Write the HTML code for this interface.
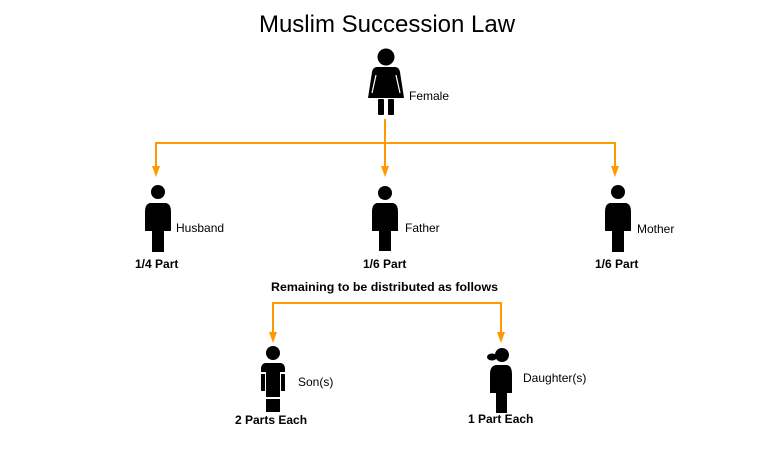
<!DOCTYPE html>
<html>
<head>
<meta charset="utf-8">
<style>
html,body{margin:0;padding:0;background:#fff;}
svg{display:block;}
text{font-family:"Liberation Sans",Arial,sans-serif;fill:#000;}
</style>
</head>
<body>
<svg width="778" height="456" viewBox="0 0 778 456" xmlns="http://www.w3.org/2000/svg">
  <rect width="778" height="456" fill="#fff"/>
  <!-- Title -->
  <text x="387" y="32" font-size="24" text-anchor="middle">Muslim Succession Law</text>

  <!-- Connectors top -->
  <g stroke="#FF9900" stroke-width="2" fill="none">
    <line x1="385" y1="119" x2="385" y2="143"/>
    <polyline points="156,168 156,143 615,143 615,168"/>
    <line x1="385" y1="143" x2="385" y2="168"/>
    <polyline points="273,334 273,303 501,303 501,334"/>
  </g>
  <g fill="#FF9900">
    <polygon points="152,166 160,166 156,177"/>
    <polygon points="381,166 389,166 385,177"/>
    <polygon points="611,166 619,166 615,177"/>
    <polygon points="269,332 277,332 273,343"/>
    <polygon points="497,332 505,332 501,343"/>
  </g>

  <!-- Female -->
  <g fill="#000">
    <circle cx="386" cy="57" r="8.5"/>
    <path d="M377,67 L395,67 Q399,67 400,72 L404,98 L368,98 L372,72 Q373,67 377,67 Z"/>
    <rect x="378" y="99" width="6" height="16" rx="1"/>
    <rect x="388" y="99" width="6" height="16" rx="1"/>
  </g>
  <g stroke="#fff" stroke-width="1.2">
    <line x1="376" y1="75" x2="372" y2="93"/>
    <line x1="396" y1="75" x2="400" y2="93"/>
  </g>
  <text x="409" y="100" font-size="12">Female</text>

  <!-- Husband / Father / Mother pawn shapes -->
  <g fill="#000">
    <circle cx="158" cy="192" r="7"/>
    <path d="M150,203 L166,203 Q171,204 171,212 L171,231 L164,231 L164,252 L152,252 L152,231 L145,231 L145,212 Q145,204 150,203 Z"/>

    <circle cx="385" cy="193" r="7"/>
    <path d="M377,203 L393,203 Q398,204 398,212 L398,231 L391,231 L391,251 L379,251 L379,231 L372,231 L372,212 Q372,204 377,203 Z"/>

    <circle cx="618" cy="192" r="7"/>
    <path d="M610,203 L626,203 Q631,204 631,212 L631,231 L624,231 L624,252 L612,252 L612,231 L605,231 L605,212 Q605,204 610,203 Z"/>
  </g>
  <text x="176" y="232" font-size="12">Husband</text>
  <text x="405" y="232" font-size="12">Father</text>
  <text x="637" y="233" font-size="12">Mother</text>
  <text x="135" y="268" font-size="12" font-weight="bold">1/4 Part</text>
  <text x="363" y="268" font-size="12" font-weight="bold">1/6 Part</text>
  <text x="595" y="268" font-size="12" font-weight="bold">1/6 Part</text>

  <text x="271" y="291" font-size="11.5" font-weight="bold" textLength="227" lengthAdjust="spacingAndGlyphs">Remaining to be distributed as follows</text>

  <!-- Son -->
  <g fill="#000">
    <circle cx="273" cy="353" r="7"/>
    <path d="M265,363 L281,363 Q285,364 285,369 L285,372 L261,372 L261,369 Q261,364 265,363 Z"/>
    <rect x="261" y="374" width="4" height="17"/>
    <rect x="281" y="374" width="4" height="17"/>
    <rect x="266" y="371" width="14" height="26"/>
    <rect x="266" y="399" width="14" height="13"/>
  </g>
  <text x="298" y="386" font-size="12">Son(s)</text>
  <text x="235" y="424" font-size="12" font-weight="bold">2 Parts Each</text>

  <!-- Daughter -->
  <g fill="#000">
    <circle cx="502" cy="355" r="7"/>
    <ellipse cx="492" cy="357" rx="5" ry="3.5"/>
    <path d="M496,365 L507,365 Q512,366 512,374 L512,393 L507,393 L507,413 L496,413 L496,393 L490,393 L490,374 Q490,366 496,365 Z"/>
  </g>
  <text x="523" y="382" font-size="12">Daughter(s)</text>
  <text x="468" y="423" font-size="12" font-weight="bold">1 Part Each</text>
</svg>
</body>
</html>
